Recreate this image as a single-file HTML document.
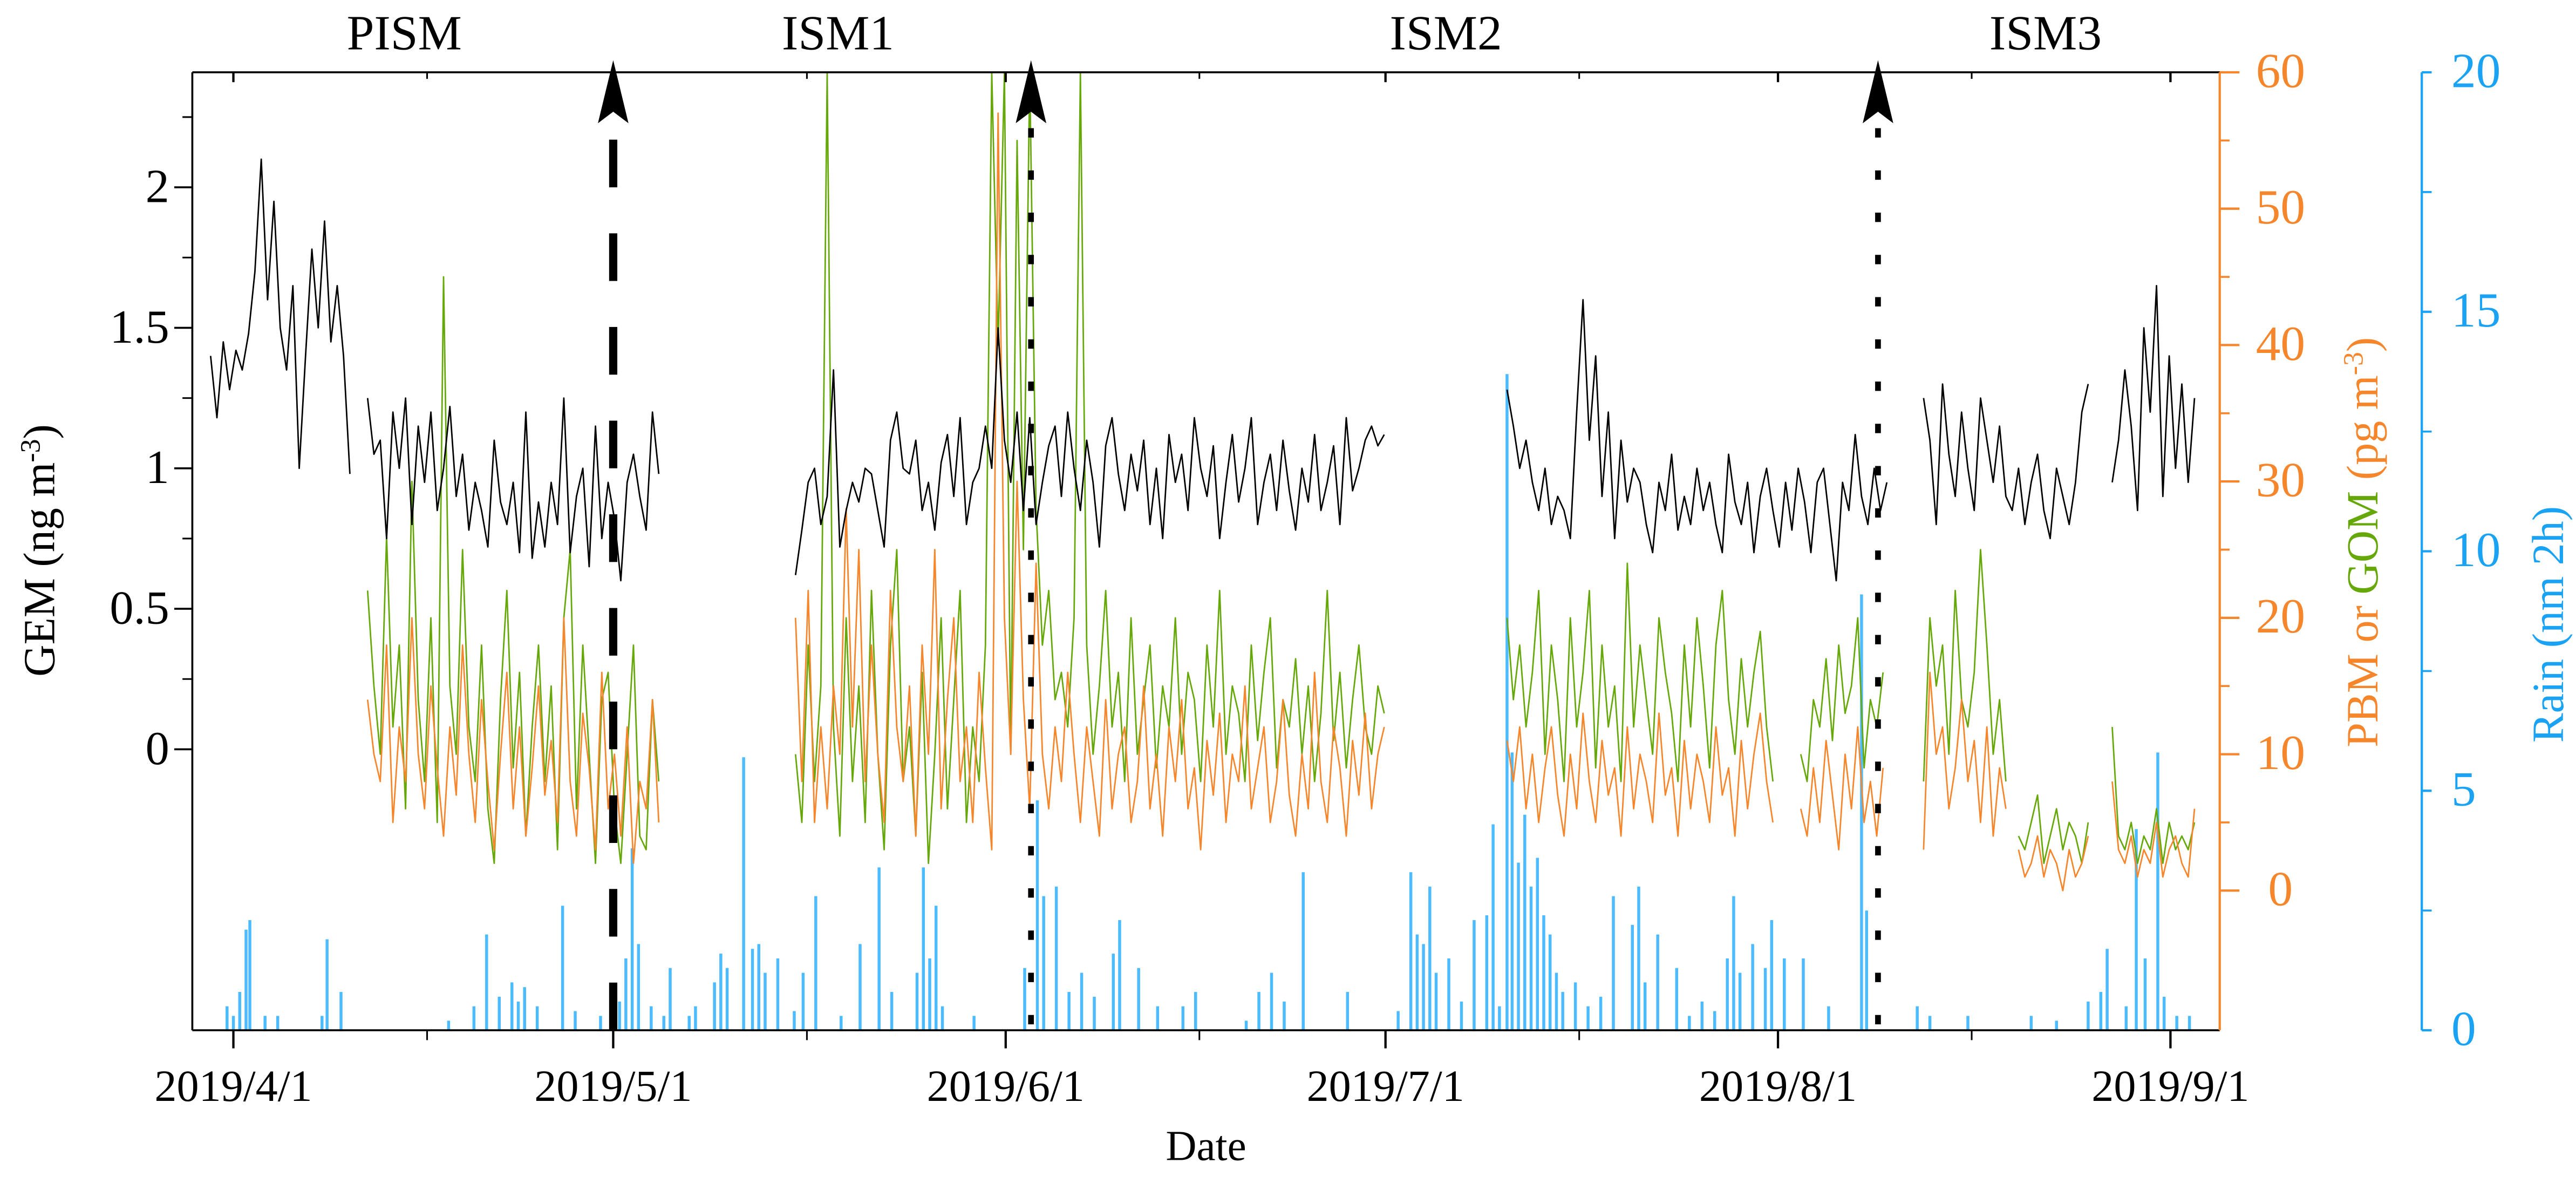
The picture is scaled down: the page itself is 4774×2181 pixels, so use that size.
<!DOCTYPE html>
<html><head><meta charset="utf-8"><style>
html,body{margin:0;padding:0;background:#fff;}
svg{display:block;font-family:"Liberation Serif",serif;}
</style></head><body>
<svg id="chart" width="4774" height="2181" viewBox="0 0 1567.8 716.3" xmlns="http://www.w3.org/2000/svg">
<defs><clipPath id="plotclip"><rect x="117" y="44" width="1234" height="583"/></clipPath></defs>
<g id="rain" clip-path="url(#plotclip)"></g>
<g id="gom" clip-path="url(#plotclip)"></g>
<g id="pbm" clip-path="url(#plotclip)"></g>
<g id="gem" clip-path="url(#plotclip)"></g>
<g id="axes"></g>
<g id="annot"></g>
<text x="734" y="706" font-size="26" text-anchor="middle">Date</text>
<text transform="translate(33,335) rotate(-90)" font-size="27" text-anchor="middle">GEM (ng m<tspan dy="-9" font-size="17">-3</tspan><tspan dy="9">)</tspan></text>
<text transform="translate(1447,330) rotate(-90)" font-size="27" text-anchor="middle" fill="#F5862C">PBM or <tspan fill="#66A80A">GOM</tspan> (pg m<tspan dy="-9" font-size="17">-3</tspan><tspan dy="9">)</tspan></text>
<text transform="translate(1560,380) rotate(-90)" font-size="27" text-anchor="middle" fill="#1AA3F5">Rain (nm 2h)</text>
<text x="246" y="30" font-size="30" text-anchor="middle">PISM</text>
<text x="510" y="30" font-size="30" text-anchor="middle">ISM1</text>
<text x="880" y="30" font-size="30" text-anchor="middle">ISM2</text>
<text x="1245" y="30" font-size="30" text-anchor="middle">ISM3</text>
</svg>
<script>
const xTickLabels=["2019/4/1","2019/5/1","2019/6/1","2019/7/1","2019/8/1","2019/9/1"];
const xTickDays=[0,30,61,91,122,153];
const gemTicks=[0,0.5,1,1.5,2];
const gemTickLabels=["0","0.5","1","1.5","2"];
const pbTicks=[0,10,20,30,40,50,60];
const rainTicks=[0,5,10,15,20];
const dividerDays=[30,63,129.9];
const gemStarts=[-1.8,10.6,44.4,100.6,133.5,148.4];
const gemSegs=[
[140,118,145,128,142,135,148,170,210,160,195,150,135,165,100,140,178,150,188,145,165,140,98],
[125,105,110,75,120,100,125,80,115,95,120,85,100,122,90,105,78,95,85,72,110,88,80,95,70,120,68,88,72,95,80,125,70,90,100,65,115,75,95,82,60,95,105,90,78,120,98],
[62,78,95,100,80,90,135,72,85,95,88,100,98,85,72,110,120,100,98,110,85,95,78,102,112,90,118,80,95,100,115,100,150,110,95,120,85,118,80,95,108,115,90,120,100,85,110,95,72,108,118,98,85,105,92,110,80,100,75,112,95,105,85,118,100,90,108,75,95,112,88,100,118,80,95,105,85,110,92,78,100,88,112,85,95,108,80,118,92,100,110,115,108,112],
[128,115,100,110,95,85,100,80,90,85,75,120,160,110,140,90,120,75,110,88,100,95,80,70,95,85,105,78,90,80,100,85,95,80,70,105,88,80,95,70,90,100,85,72,95,78,100,88,70,95,100,80,60,95,85,112,90,80,100,85,95],
[125,110,80,130,105,90,120,100,85,125,110,95,115,90,85,100,80,95,105,85,75,100,90,80,95,120,130],
[95,110,135,115,85,150,120,165,90,140,100,130,95,125]];
const pbStarts=[10.6,44.4,100.6,123.8,133.5,141,148.4];
const pbmSegs=[
[14,10,8,18,5,12,8,20,10,6,15,9,4,12,7,18,10,5,14,8,3,10,16,6,12,4,9,15,7,11,5,20,8,4,13,9,3,16,6,10,4,12,2,8,6,14,5],
[20,8,22,5,12,6,15,10,28,12,25,8,18,10,5,22,12,8,15,4,18,10,25,6,14,20,8,12,5,16,9,3,57,20,10,30,14,6,24,10,6,12,8,16,10,5,12,8,4,14,6,10,12,5,8,15,6,10,4,12,8,14,6,9,3,11,7,13,5,10,8,15,6,9,12,5,8,14,7,4,10,6,16,8,5,12,9,4,11,7,13,6,10,12],
[11,8,12,6,10,5,9,12,7,4,10,6,13,8,5,11,7,9,4,12,6,10,8,5,13,7,9,4,11,6,10,8,5,12,7,9,4,11,6,10,13,8,5],
[6,4,9,5,11,7,3,10,6,12,5,8,4,9],
[3,16,10,12,6,9,14,8,11,5,12,4,9,6],
[3,1,2,4,1,3,2,0,3,1,2,4],
[8,3,2,4,1,3,2,5,1,3,4,2,1,6]];
const gomSegs=[
[22,15,10,26,12,18,6,30,14,8,20,5,45,15,10,25,12,8,18,6,2,14,22,9,16,4,12,18,8,15,3,20,25,6,18,10,2,14,16,6,2,10,18,4,3,14,8],
[10,5,18,8,15,60,12,4,20,8,15,5,22,10,3,18,25,8,12,4,16,2,10,20,6,14,22,5,12,8,18,60,40,60,10,55,25,60,28,18,22,14,16,12,20,60,18,10,15,22,12,16,8,20,10,14,18,9,15,12,20,10,16,14,8,18,12,22,10,15,13,8,18,11,16,20,9,14,12,17,10,15,8,13,22,11,16,9,14,18,12,10,15,13],
[20,14,18,12,16,22,10,18,14,8,20,12,16,22,9,18,12,15,8,24,12,18,14,10,20,16,13,8,18,12,20,15,9,18,22,14,10,17,12,16,19,12,8],
[10,8,14,12,17,11,18,13,15,20,9,14,12,16],
[8,20,15,18,10,22,14,12,16,25,18,10,14,8],
[4,3,5,7,2,4,6,3,5,4,2,5],
[12,4,3,5,2,4,3,6,2,5,3,4,3,5]];
const rainDays=[-0.5,0,0.5,1,1.3,2.5,3.5,7,7.4,8.5,17,19,20,21,22,22.5,23,24,26,27,29,30.5,31,31.5,32,33,34,34.5,36,36.5,38,38.5,39,40.3,41,41.5,42,43,44.3,45,46,48,49.5,51,52,54,54.5,55,55.5,56,58.5,62.5,63.5,64,65,66,67,68,69.5,70,71.5,73,75,76,80,81,82,83,84.5,88,92,93,93.5,94,94.5,95,96,97,98,99,99.5,100,100.6,101,101.5,102,102.5,103,103.5,104,104.5,105,106,107,108,109,110.5,111,111.5,112.5,114,115,116,117,118,118.5,119,120,121,121.5,122.5,124,126,128.6,129,133,134,137,142,144,146.5,147.5,148,149.5,150.3,151,152,152.5,153.5,154.5];
const rainVals=[0.5,0.3,0.8,2.1,2.3,0.3,0.3,0.3,1.9,0.8,0.2,0.5,2.0,0.7,1.0,0.6,0.9,0.5,2.6,0.4,0.3,0.6,1.5,3.8,1.8,0.5,0.3,1.3,0.3,0.5,1.0,1.6,1.3,5.7,1.7,1.8,1.2,1.5,0.4,1.2,2.8,0.3,1.8,3.4,0.8,1.2,3.4,1.5,2.6,0.5,0.3,1.3,4.8,2.8,3.0,0.8,1.2,0.7,1.6,2.3,1.3,0.5,0.5,0.8,0.2,0.8,1.2,0.6,3.3,0.8,0.4,3.3,2.0,1.8,3.0,1.2,1.5,0.6,2.3,2.4,4.3,0.5,13.7,5.8,3.5,4.5,3.0,3.6,2.4,2.0,1.2,0.8,1.0,0.5,0.7,2.8,2.2,3.0,1.0,2.0,1.3,0.3,0.6,0.4,1.5,2.8,1.2,1.8,1.3,2.3,1.5,1.5,0.5,9.1,2.5,0.5,0.3,0.3,0.3,0.2,0.6,0.8,1.7,0.5,4.2,1.5,5.8,0.7,0.3,0.3];

const NS="http://www.w3.org/2000/svg";
const xOf=d=>142+d*7.706;
const yGem=v=>456-171*v;
const yPb=v=>542-8.3*v;
const yRain=v=>627-29.15*v;
function mk(tag,parent,attrs){const e=document.createElementNS(NS,tag);for(const k in attrs)e.setAttribute(k,attrs[k]);parent.appendChild(e);return e;}
function lines(gid,starts,segs,scale,factor,color,name){
  const g=document.getElementById(gid);
  segs.forEach((seg,si)=>{
    const pts=seg.map((v,i)=>xOf(starts[si]+i*0.5).toFixed(2)+","+scale(v*factor).toFixed(2)).join(" ");
    const p=mk("polyline",g,{points:pts,fill:"none",stroke:color,"stroke-width":"0.9","stroke-linejoin":"round"});
    
    
  });
}
const rg=document.getElementById("rain");
rainDays.forEach((d,i)=>{
  const y=yRain(rainVals[i]);
  const r=mk("rect",rg,{x:(xOf(d)-0.9).toFixed(2),y:y.toFixed(2),width:"1.8",height:(627-y).toFixed(2),fill:"#4DBBFF"});
  
  
});
lines("gom",pbStarts,gomSegs,yPb,1,"#66A80A","gom-line");
lines("pbm",pbStarts,pbmSegs,yPb,1,"#F5862C","pbm-line");
lines("gem",gemStarts,gemSegs,yGem,0.01,"#000","gem-line");

const ax=document.getElementById("axes");
function ln(x1,y1,x2,y2,c,w,name){const l=mk("line",ax,{x1,y1,x2,y2,stroke:c,"stroke-width":w});return l;}
function tx(x,y,s,anchor,c,name,size){const t=mk("text",ax,{x,y,"text-anchor":anchor,fill:c,"font-size":size||27});t.textContent=s;return t;}
ln(117,44,1351,44,"#000",1.2,"top-frame");
ln(117,627,1351,627,"#000",1.2,"bottom-frame");
ln(117,44,117,627,"#000",1.2,"left-axis-line");
const OR="#F5862C",BL="#1AA3F5";
ln(1351,44,1351,627,OR,1.4,"pbm-axis-line");
ln(1474,44,1474,627,BL,1.4,"rain-axis-line");
xTickDays.forEach((d,i)=>{
  const x=xOf(d);
  ln(x,627,x,638,"#000",1.4,"x-tick");
  ln(x,44,x,50,"#000",1.4,"x-tick-top");
  tx(x,670,xTickLabels[i],"middle","#000","x-tick-label",27);
  if(i<xTickDays.length-1){const xm=xOf(d+15.3);ln(xm,627,xm,633,"#000",1,"x-minor-tick");ln(xm,44,xm,48,"#000",1,"x-minor-tick-top");}
});
gemTicks.forEach((v,i)=>{const y=yGem(v);ln(106,y,117,y,"#000",1.2,"gem-tick");tx(103,y+9,gemTickLabels[i],"end","#000","gem-tick-label",29);
  const ym=yGem(v+0.25);ln(111,ym,117,ym,"#000",1,"gem-minor-tick");});
pbTicks.forEach(v=>{const y=yPb(v);ln(1351,y,1363,y,OR,1.4,"pbm-tick");tx(1388,y+9,String(v),"middle",OR,"pbm-tick-label",30);
  if(v<60){const ym=yPb(v+5);ln(1351,ym,1357,ym,OR,1.2,"pbm-minor-tick");}});
rainTicks.forEach(v=>{const y=yRain(v);ln(1474,y,1480,y,BL,1.4,"rain-tick");tx(1492,y+9,String(v),"start",BL,"rain-tick-label",30);
  if(v<20){const ym=yRain(v+2.5);ln(1474,ym,1480,ym,BL,1.2,"rain-minor-tick");}});

const an=document.getElementById("annot");
dividerDays.forEach((d,i)=>{
  const x=xOf(d);
  const l=mk("line",an,{x1:x,y1:i===0?85:78,x2:x,y2:627,stroke:"#000","stroke-width":i===0?5:3.5,"stroke-dasharray":i===0?"29 28":"5.7 20"});
  
  
  const a=mk("path",an,{d:`M${x},36.6 L${x+9.3},75 L${x},68 L${x-9.3},75 Z`,fill:"#000"});
  
  
});
</script>
</body></html>
